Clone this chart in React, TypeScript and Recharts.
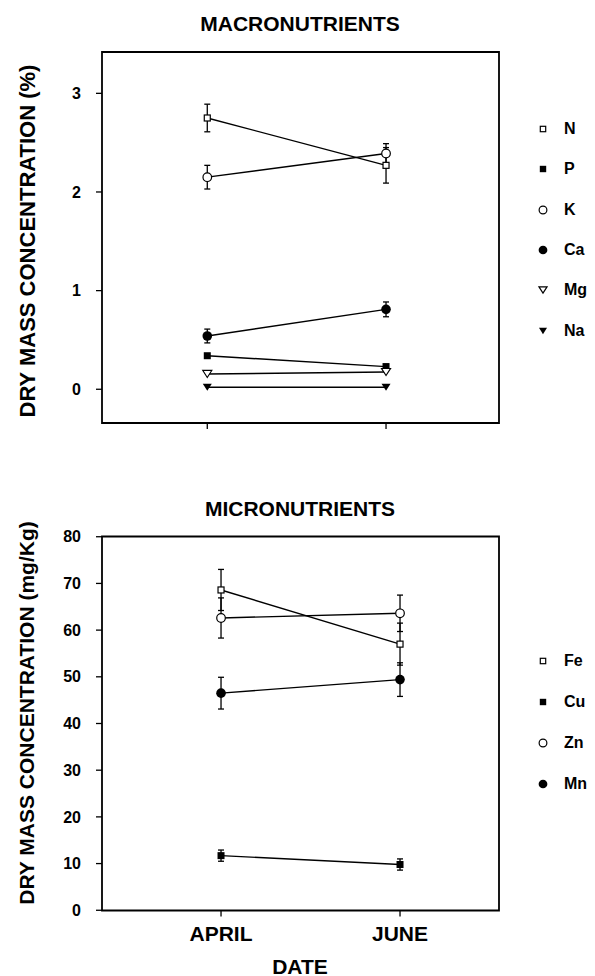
import React from 'react';
import { LineChart, Line, XAxis, YAxis, ErrorBar, ReferenceArea } from 'recharts';

const FONT = '"Liberation Sans", Arial, Helvetica, sans-serif';

const dates = ['APRIL', 'JUNE'];
const datePos = [1, 2];

// macronutrients, % of dry mass
const macroN = [2.75, 2.27];
const macroNErr = [0.14, 0.18];
const macroP = [0.34, 0.23];
const macroK = [2.15, 2.39];
const macroKErr = [0.12, 0.1];
const macroCa = [0.54, 0.81];
const macroCaErr = [0.07, 0.075];
const macroMg = [0.155, 0.175];
const macroNa = [0.02, 0.02];

// micronutrients, mg/Kg
const microFe = [68.6, 57.0];
const microFeErr = [4.4, 4.5];
const microCu = [11.7, 9.8];
const microCuErr = [1.2, 1.2];
const microZn = [62.6, 63.6];
const microZnErr = [4.3, 3.9];
const microMn = [46.5, 49.4];
const microMnErr = [3.4, 3.6];

const macroTicks = [0, 1, 2, 3];
const microTicks = [0, 10, 20, 30, 40, 50, 60, 70, 80];

type Shape = 'sqOpen' | 'sqFill' | 'cirOpen' | 'cirFill' | 'triOpen' | 'triFill';
type Series = { key: string; values: number[]; err?: number[]; shape: Shape };

const macroSeries: Series[] = [
  { key: 'N', values: macroN, err: macroNErr, shape: 'sqOpen' },
  { key: 'P', values: macroP, shape: 'sqFill' },
  { key: 'K', values: macroK, err: macroKErr, shape: 'cirOpen' },
  { key: 'Ca', values: macroCa, err: macroCaErr, shape: 'cirFill' },
  { key: 'Mg', values: macroMg, shape: 'triOpen' },
  { key: 'Na', values: macroNa, shape: 'triFill' },
];

const microSeries: Series[] = [
  { key: 'Fe', values: microFe, err: microFeErr, shape: 'sqOpen' },
  { key: 'Cu', values: microCu, err: microCuErr, shape: 'sqFill' },
  { key: 'Zn', values: microZn, err: microZnErr, shape: 'cirOpen' },
  { key: 'Mn', values: microMn, err: microMnErr, shape: 'cirFill' },
];

const buildRows = (series: Series[]) =>
  datePos.map((x, i) => {
    const row: any = { x, date: dates[i] };
    series.forEach((s) => {
      row[s.key] = s.values[i];
      if (s.err) row[s.key + '_err'] = s.err[i];
    });
    return row;
  });

function Marker({ shape, cx, cy, k = 1 }: { shape: Shape; cx: number; cy: number; k?: number }) {
  const sq = 6 * k;
  const r = 4.3 * k;
  const tw = 4.5 * k;
  const th = 7 * k;
  switch (shape) {
    case 'sqOpen':
      return <rect x={cx - sq / 2} y={cy - sq / 2} width={sq} height={sq} fill="#fff" stroke="#000" strokeWidth={1.2} />;
    case 'sqFill':
      return <rect x={cx - sq / 2 - 0.5} y={cy - sq / 2 - 0.5} width={sq + 1} height={sq + 1} fill="#000" />;
    case 'cirOpen':
      return <circle cx={cx} cy={cy} r={r} fill="#fff" stroke="#000" strokeWidth={1.2} />;
    case 'cirFill':
      return <circle cx={cx} cy={cy} r={r + 0.5} fill="#000" />;
    case 'triOpen':
      return <polygon points={`${cx - tw},${cy - th / 2} ${cx + tw},${cy - th / 2} ${cx},${cy + th / 2}`} fill="#fff" stroke="#000" strokeWidth={1.2} />;
    default:
      return <polygon points={`${cx - tw},${cy - th / 2} ${cx + tw},${cy - th / 2} ${cx},${cy + th / 2}`} fill="#000" />;
  }
}

const tickStyle = { fontSize: 16, fontWeight: 700, fill: '#000', fontFamily: FONT };

function Panel({
  series, yDomain, yTicks, xDomain, height, margin, showDates,
}: {
  series: Series[]; yDomain: number[]; yTicks: number[]; xDomain: number[];
  height: number; margin: any; showDates: boolean;
}) {
  const rows = buildRows(series);
  return (
    <LineChart width={595} height={height} data={rows} margin={margin}>
      <XAxis
        dataKey="x" type="number" domain={xDomain} ticks={datePos} allowDataOverflow
        axisLine={false} tickLine={{ stroke: '#000', strokeWidth: 1.3 }} tickSize={6} tickMargin={10} height={30}
        tickFormatter={(v: number) => (showDates ? dates[datePos.indexOf(v)] : '')}
        tick={{ ...tickStyle, fontSize: 21 }}
      />
      <YAxis
        type="number" domain={yDomain} ticks={yTicks} allowDataOverflow width={102}
        axisLine={false} tickLine={{ stroke: '#000', strokeWidth: 1.3 }} tickSize={6} tickMargin={15}
        tick={tickStyle}
      />
      <ReferenceArea
        x1={xDomain[0]} x2={xDomain[1]} y1={yDomain[0]} y2={yDomain[1]}
        fill="none" fillOpacity={0} stroke="#000" strokeWidth={1.8} strokeOpacity={1} ifOverflow="visible"
      />
      {series.map((s) => (
        <Line
          key={s.key} dataKey={s.key} stroke="#000" strokeWidth={1.4} isAnimationActive={false}
          dot={(p: any) => <Marker key={`${s.key}-${p.index}`} shape={s.shape} cx={p.cx} cy={p.cy} />}
          activeDot={false}
        >
          {s.err && (
            <ErrorBar dataKey={s.key + '_err'} direction="y" width={3} stroke="#000" strokeWidth={1.3} />
          )}
        </Line>
      ))}
    </LineChart>
  );
}

function Legend({ series, top, gap }: { series: Series[]; top: number; gap: number }) {
  return (
    <>
      {series.map((s, i) => (
        <div key={s.key} style={{ position: 'absolute', left: 534, top: top + i * gap - 10, height: 20, display: 'flex', alignItems: 'center' }}>
          <svg width={18} height={20}>
            <Marker shape={s.shape} cx={9} cy={10} k={0.9} />
          </svg>
          <span style={{ marginLeft: 12, fontSize: 16, fontWeight: 700, lineHeight: '20px' }}>{s.key}</span>
        </div>
      ))}
    </>
  );
}

const label = (text: string, cx: number, cy: number, size: number, rotate = false): React.ReactElement => (
  <div
    style={{
      position: 'absolute', left: cx, top: cy, fontSize: size, fontWeight: 700, lineHeight: `${Math.round(size * 0.8)}px`,
      whiteSpace: 'nowrap', transform: `translate(-50%, -50%)${rotate ? ' rotate(-90deg)' : ''}`,
    }}
  >
    {text}
  </div>
);

export default function App() {
  return (
    <div style={{ position: 'absolute', left: 0, top: 0, width: 595, height: 976, background: '#fff', fontFamily: FONT, color: '#000', overflow: 'hidden' }}>
      {label('MACRONUTRIENTS', 300, 23, 21)}
      {label('DRY MASS CONCENTRATION (%)', 28, 241, 22, true)}
      <div style={{ position: 'absolute', left: 0, top: 0 }}>
        <Panel
          series={macroSeries} yDomain={[-0.342, 3.419]} yTicks={macroTicks} xDomain={[0.411, 2.632]}
          height={460} margin={{ top: 52, right: 96, bottom: 7, left: 0 }} showDates={false}
        />
      </div>
      <Legend series={macroSeries} top={129} gap={40.3} />

      {label('MICRONUTRIENTS', 300, 508, 21)}
      {label('DRY MASS CONCENTRATION (mg/Kg)', 26, 713, 21, true)}
      <div style={{ position: 'absolute', left: 0, top: 480 }}>
        <Panel
          series={microSeries} yDomain={[-0.05, 80.05]} yTicks={microTicks} xDomain={[0.335, 2.553]}
          height={496} margin={{ top: 56.5, right: 96, bottom: 35.5, left: 0 }} showDates
        />
      </div>
      <Legend series={microSeries} top={661} gap={41} />
      {label('DATE', 300, 966, 21)}
    </div>
  );
}
